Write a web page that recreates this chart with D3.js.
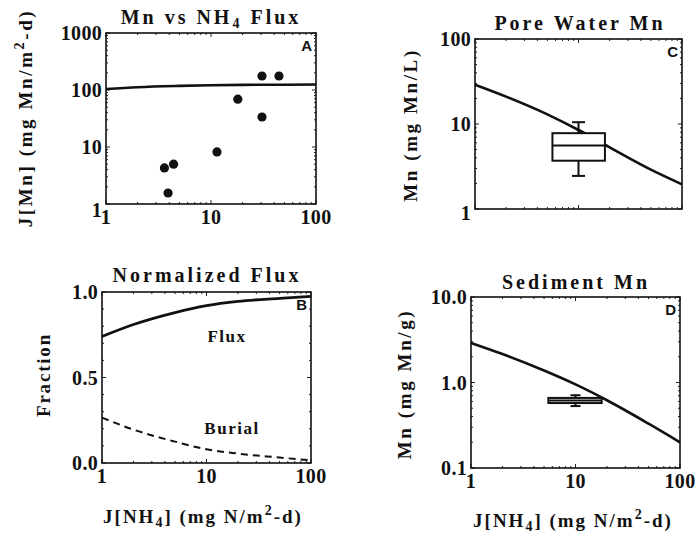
<!DOCTYPE html>
<html><head><meta charset="utf-8">
<script src="https://cdn.jsdelivr.net/npm/d3@7"></script>
<style>
body{margin:0;background:#fff;}
svg{display:block;}
text{font-family:"Liberation Serif","Times New Roman",serif;font-weight:bold;fill:#111;}
</style></head><body>
<svg id="c" width="696" height="535"></svg>
<script>
// ---------- data ----------
const xTickVals = [1, 10, 100];
const xTickLabels = ["1", "10", "100"];

// Panel A
const aLineX = [1, 2, 5, 10, 20, 50, 100];
const aLineY = [104, 112, 118, 121, 123, 124, 125];
const aPtsX = [3.6, 3.9, 4.4, 11.4, 18, 30.6, 30.6, 44.4];
const aPtsY = [4.3, 1.56, 5.0, 8.2, 69, 176, 33.6, 176];
const aYTicks = [1, 10, 100, 1000];
const aYLabels = ["1", "10", "100", "1000"];

// Panel B
const bX = [1, 2, 5, 10, 20, 50, 100];
const bFlux = [0.74, 0.81, 0.88, 0.92, 0.945, 0.963, 0.975];
const bBurial = [0.265, 0.195, 0.125, 0.08, 0.055, 0.032, 0.015];
const bYTicks = [0, 0.5, 1.0];
const bYLabels = ["0.0", "0.5", "1.0"];

// Panel C
const cLineX = [1, 2, 5, 10, 20, 50, 100];
const cLineY = [29, 21, 13, 8.5, 5.3, 2.9, 1.95];
const cBoxX = [5.6, 10, 18];              // left, centre, right
const cBoxY = [2.45, 3.7, 5.6, 7.8, 10.5]; // min, q1, median, q3, max
const cYTicks = [1, 10, 100];
const cYLabels = ["1", "10", "100"];

// Panel D
const dLineX = [1, 2, 5, 10, 20, 50, 100];
const dLineY = [2.9, 2.15, 1.38, 0.95, 0.62, 0.33, 0.2];
const dBoxX = [5.5, 10, 17.8];
const dBoxY = [0.53, 0.575, 0.615, 0.66, 0.71];
const dYTicks = [0.1, 1, 10];
const dYLabels = ["0.1", "1.0", "10.0"];

// ---------- drawing ----------
const svg = d3.select("#c");
const FS = 20;

function panel(cfg) {
  const g = svg.append("g");
  const x = d3.scaleLog().domain([1, 100]).range([cfg.x0, cfg.x1]);
  const y = (cfg.ylog ? d3.scaleLog() : d3.scaleLinear()).domain(cfg.ydom).range([cfg.y1, cfg.y0]);

  // minor ticks, inward on all sides
  const xMinor = [];
  for (let d = 1; d < 100; d *= 10) for (let k = 1; k < 10; k++) xMinor.push(d * k);
  xMinor.push(100);
  const yMinor = [];
  if (cfg.ylog) {
    for (let d = cfg.ydom[0]; d < cfg.ydom[1] * 0.999; d *= 10) for (let k = 1; k < 10; k++) yMinor.push(d * k);
    yMinor.push(cfg.ydom[1]);
  } else {
    for (let k = 0; k <= 10; k++) yMinor.push(k / 10);
  }
  const tg = g.append("g").attr("stroke", "#222").attr("stroke-width", 1);
  xMinor.forEach(v => {
    const major = xTickVals.includes(v);
    const L = major ? 4 : 2;
    tg.append("line").attr("x1", x(v)).attr("x2", x(v)).attr("y1", cfg.y1).attr("y2", cfg.y1 - L);
    tg.append("line").attr("x1", x(v)).attr("x2", x(v)).attr("y1", cfg.y0).attr("y2", cfg.y0 + L);
  });
  yMinor.forEach(v => {
    const major = cfg.yticks.some(t => Math.abs(t - v) < 1e-9);
    const L = major ? 4 : 2;
    tg.append("line").attr("y1", y(v)).attr("y2", y(v)).attr("x1", cfg.x0).attr("x2", cfg.x0 + L);
    tg.append("line").attr("y1", y(v)).attr("y2", y(v)).attr("x1", cfg.x1).attr("x2", cfg.x1 - L);
  });

  // frame
  g.append("rect").attr("x", cfg.x0).attr("y", cfg.y0)
    .attr("width", cfg.x1 - cfg.x0).attr("height", cfg.y1 - cfg.y0)
    .attr("fill", "none").attr("stroke", "#111").attr("stroke-width", 1.6);

  // y tick labels
  cfg.yticks.forEach((v, i) => {
    g.append("text").attr("x", cfg.x0 - 4).attr("y", y(v) + (i === 0 ? cfg.firstDy || 0 : 0))
      .attr("dy", "0.35em").attr("text-anchor", "end")
      .attr("font-size", FS).attr("letter-spacing", 0.3).text(cfg.ylabels[i]);
  });
  // x tick labels
  if (cfg.xlabels) {
    xTickVals.forEach((v, i) => {
      g.append("text").attr("x", x(v)).attr("y", cfg.y1 + 13).attr("dy", "0.35em")
        .attr("text-anchor", "middle").attr("font-size", FS).attr("letter-spacing", 0.3).text(xTickLabels[i]);
    });
  }

  // title
  const t = g.append("text").attr("x", cfg.tx).attr("y", cfg.ty).attr("text-anchor", "middle")
    .attr("font-size", 20).attr("letter-spacing", 3);
  cfg.title.forEach(p => {
    const ts = t.append("tspan").text(p[0]);
    if (p[1] === "sub") ts.attr("font-size", 14).attr("dy", 4);
    if (p[1] === "after") ts.attr("dy", -4);
  });

  // panel letter
  g.append("text").attr("x", cfg.x1 - 4).attr("y", cfg.y0 + 18).attr("text-anchor", "end")
    .style("font-family", "'Liberation Sans',Arial,sans-serif").attr("font-size", 15).text(cfg.letter);

  // y axis label
  const yl = g.append("text").attr("transform", `translate(${cfg.ylx},${cfg.yly}) rotate(-90)`)
    .attr("text-anchor", "middle").attr("font-size", 19).attr("letter-spacing", cfg.yls || 2.6);
  cfg.ylabel.forEach(p => {
    const ts = yl.append("tspan").text(p[0]);
    if (p[1] === "sup") ts.attr("font-size", 14).attr("dy", -8);
    if (p[1] === "after") ts.attr("dy", 8);
  });

  return { g, x, y };
}

function xAxisLabel(cx, cy) {
  const t = svg.append("text").attr("x", cx).attr("y", cy).attr("text-anchor", "middle")
    .attr("font-size", 19).attr("letter-spacing", 2);
  t.append("tspan").text("J[NH");
  t.append("tspan").text("4").attr("font-size", 14).attr("dy", 4);
  t.append("tspan").text("] (mg N/m").attr("dy", -4);
  t.append("tspan").text("2").attr("font-size", 14).attr("dy", -8);
  t.append("tspan").text("-d)").attr("dy", 8);
}

function curve(p, xs, ys, opts) {
  const line = d3.line().x(d => p.x(d[0])).y(d => p.y(d[1])).curve(d3.curveMonotoneX);
  const path = p.g.append("path").datum(xs.map((v, i) => [v, ys[i]]))
    .attr("d", line).attr("fill", "none").attr("stroke", "#111")
    .attr("stroke-width", opts.w || 2.6);
  if (opts.dash) path.attr("stroke-dasharray", opts.dash);
}

function box(p, bx, by, capW, sw) {
  const g = p.g.append("g").attr("stroke", "#111").attr("stroke-width", sw).attr("fill", "none");
  const xc = p.x(bx[1]);
  g.append("line").attr("x1", xc).attr("x2", xc).attr("y1", p.y(by[0])).attr("y2", p.y(by[1]));
  g.append("line").attr("x1", xc).attr("x2", xc).attr("y1", p.y(by[3])).attr("y2", p.y(by[4]));
  g.append("line").attr("x1", xc - capW / 2).attr("x2", xc + capW / 2).attr("y1", p.y(by[0])).attr("y2", p.y(by[0]));
  g.append("line").attr("x1", xc - capW / 2).attr("x2", xc + capW / 2).attr("y1", p.y(by[4])).attr("y2", p.y(by[4]));
  g.append("rect").attr("x", p.x(bx[0])).attr("y", p.y(by[3]))
    .attr("width", p.x(bx[2]) - p.x(bx[0])).attr("height", p.y(by[1]) - p.y(by[3]))
    .attr("fill", "#fff");
  g.append("line").attr("x1", p.x(bx[0])).attr("x2", p.x(bx[2])).attr("y1", p.y(by[2])).attr("y2", p.y(by[2]));
}

// Panel A
const A = panel({
  x0: 106, x1: 316, y0: 33, y1: 204, ylog: true, ydom: [1, 1000],
  yticks: aYTicks, ylabels: aYLabels, xlabels: true, firstDy: 6,
  title: [["Mn vs NH"], ["4", "sub"], [" Flux", "after"]],
  tx: 211, ty: 24, letter: "A",
  ylabel: [["J[Mn] (mg Mn/m"], ["2", "sup"], ["-d)", "after"]], ylx: 32, yly: 118
});
curve(A, aLineX, aLineY, { w: 2.6 });
A.g.selectAll("circle.pt").data(aPtsX.map((v, i) => [v, aPtsY[i]])).enter().append("circle")
  .attr("cx", d => A.x(d[0])).attr("cy", d => A.y(d[1])).attr("r", 4.6).attr("fill", "#111");

// Panel B
const B = panel({
  x0: 102, x1: 311, y0: 292, y1: 463, ylog: false, ydom: [0, 1],
  yticks: bYTicks, ylabels: bYLabels, xlabels: true,
  title: [["Normalized Flux"]], tx: 207, ty: 282, letter: "B",
  ylabel: [["Fraction"]], ylx: 50, yly: 375, yls: 1.8
});
curve(B, bX, bFlux, { w: 2.8 });
curve(B, bX, bBurial, { w: 2, dash: "7,5" });
B.g.append("text").attr("x", 227).attr("y", 342).attr("text-anchor", "middle").attr("font-size", 17).attr("letter-spacing", 1.5).text("Flux");
B.g.append("text").attr("x", 232).attr("y", 434).attr("text-anchor", "middle").attr("font-size", 17).attr("letter-spacing", 1.5).text("Burial");
xAxisLabel(203, 523);

// Panel C
const C = panel({
  x0: 475, x1: 682, y0: 39, y1: 209, ylog: true, ydom: [1, 100],
  yticks: cYTicks, ylabels: cYLabels, xlabels: false, firstDy: 4,
  title: [["Pore Water Mn"]], tx: 580, ty: 30, letter: "C",
  ylabel: [["Mn (mg Mn/L)"]], ylx: 417, yly: 125
});
curve(C, cLineX, cLineY, { w: 2.6 });
box(C, cBoxX, cBoxY, 13, 2);

// Panel D
const D = panel({
  x0: 471, x1: 680, y0: 297, y1: 468, ylog: true, ydom: [0.1, 10],
  yticks: dYTicks, ylabels: dYLabels, xlabels: true,
  title: [["Sediment Mn"]], tx: 576, ty: 289, letter: "D",
  ylabel: [["Mn (mg Mn/g)"]], ylx: 411, yly: 384
});
curve(D, dLineX, dLineY, { w: 2.6 });
box(D, dBoxX, dBoxY, 10, 2);
xAxisLabel(573, 527);
</script>
</body></html>
